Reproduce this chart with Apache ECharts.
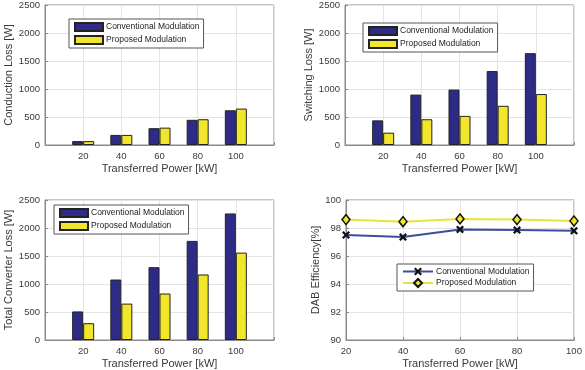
<!DOCTYPE html>
<html>
<head>
<meta charset="utf-8">
<script src="https://cdn.jsdelivr.net/npm/echarts@6/dist/echarts.min.js"></script>
<style>
  html, body { margin: 0; padding: 0; background: #fff; }
  #main { width: 585px; height: 370px; }
</style>
</head>
<body>
<div id="main"></div>
<script>
// data
var powers = [20, 40, 60, 80, 100];
var condConv = [70, 180, 300, 450, 620];
var condProp = [70, 180, 310, 460, 650];
var swConv = [440, 900, 990, 1320, 1640];
var swProp = [220, 460, 520, 700, 910];
var totConv = [510, 1080, 1300, 1770, 2260];
var totProp = [300, 650, 830, 1170, 1560];
var effConv = [97.5, 97.35, 97.9, 97.85, 97.8];
var effProp = [98.6, 98.45, 98.65, 98.6, 98.5];

var legendText = { conv: 'Conventional Modulation', prop: 'Proposed Modulation' };

var FONT = 'Liberation Sans, Arial, sans-serif';
var TXT = '#3a3a3a';
var FRAME = '#8a8a8a';
var GRIDLINE = '#e4e4e4';
var NAVY = '#2e2b87';
var YELLOW = '#f2e62a';

function pairs(xs, ys) {
	return xs.map(function (x, i) { return [x, ys[i]]; });
}

var myChart = echarts.init(document.getElementById('main'));

var grids = [
	{ left: 45, top: 5, width: 229, height: 140 },
	{ left: 345, top: 5, width: 229, height: 140 },
	{ left: 45, top: 200, width: 229, height: 140 },
	{ left: 346, top: 200, width: 228, height: 140 }
].map(function (g) {
	g.show = true;
	g.borderColor = FRAME;
	g.borderWidth = 1;
	g.backgroundColor = '#fff';
	return g;
});

function xAxisFor(idx, isLine) {
	return {
		type: 'value',
		gridIndex: idx,
		min: isLine ? 20 : 0,
		max: isLine ? 100 : 120,
		interval: 20,
		name: 'Transferred Power [kW]',
		nameLocation: 'middle',
		nameGap: 18,
		nameTextStyle: { color: TXT, fontSize: 11, fontFamily: FONT },
		axisLine: { show: true, onZero: false, lineStyle: { color: FRAME } },
		axisTick: { show: true, inside: true, length: 3, lineStyle: { color: FRAME } },
		axisLabel: {
			color: TXT, fontSize: 9.5, fontFamily: FONT, margin: 6,
			formatter: function (v) { return (!isLine && (v === 0 || v === 120)) ? '' : String(v); }
		},
		splitLine: { show: true, lineStyle: { color: GRIDLINE } }
	};
}

function yAxisFor(idx, name, min, max, interval, gap) {
	return {
		type: 'value',
		gridIndex: idx,
		min: min,
		max: max,
		interval: interval,
		name: name,
		nameLocation: 'middle',
		nameGap: gap,
		nameTextStyle: { color: TXT, fontSize: 11, fontFamily: FONT },
		axisLine: { show: true, lineStyle: { color: FRAME } },
		axisTick: { show: true, inside: true, length: 3, lineStyle: { color: FRAME } },
		axisLabel: {
			color: TXT, fontSize: 9.5, fontFamily: FONT, margin: 5,
			formatter: function (v) { return String(v); }
		},
		splitLine: { show: true, lineStyle: { color: GRIDLINE } }
	};
}

function legendFor(idx, left, top, isLine) {
	return {
		left: left,
		top: top,
		orient: 'vertical',
		data: ['conv-' + idx, 'prop-' + idx],
		icon: isLine ? undefined : 'rect',
		itemWidth: isLine ? 30 : 28,
		itemHeight: isLine ? 10 : 8,
		itemGap: isLine ? 2 : 3,
		padding: [3, 4, 3, 5],
		borderColor: '#555',
		borderWidth: 1,
		backgroundColor: '#fff',
		selectedMode: false,
		textStyle: { color: '#222', fontSize: 8.5, fontFamily: FONT, padding: [0, 0, 0, -2] },
		formatter: function (n) { return legendText[n.split('-')[0]]; }
	};
}

function barSeries(idx, key, color, ys) {
	return {
		name: key + '-' + idx,
		type: 'bar',
		xAxisIndex: idx,
		yAxisIndex: idx,
		barWidth: 11,
		barGap: '0%',
		itemStyle: { color: color, borderColor: '#222', borderWidth: 1 },
		data: pairs(powers, ys)
	};
}

var xSymbol = 'path://M2,0 L5,3 L8,0 L10,2 L7,5 L10,8 L8,10 L5,7 L2,10 L0,8 L3,5 L0,2 Z';

var option = {
	animation: false,
	grid: grids,
	xAxis: [xAxisFor(0, false), xAxisFor(1, false), xAxisFor(2, false), xAxisFor(3, true)],
	yAxis: [
		yAxisFor(0, 'Conduction Loss [W]', 0, 2500, 500, 28),
		yAxisFor(1, 'Switching Loss [W]', 0, 2500, 500, 28),
		yAxisFor(2, 'Total Converter Loss [W]', 0, 2500, 500, 28),
		yAxisFor(3, 'DAB Efficiency[%]', 90, 100, 2, 23)
	],
	legend: [
		legendFor(0, 69, 19, false),
		legendFor(1, 363, 23, false),
		legendFor(2, 54, 205, false),
		legendFor(3, 397, 264, true)
	],
	series: [
		barSeries(0, 'conv', NAVY, condConv),
		barSeries(0, 'prop', YELLOW, condProp),
		barSeries(1, 'conv', NAVY, swConv),
		barSeries(1, 'prop', YELLOW, swProp),
		barSeries(2, 'conv', NAVY, totConv),
		barSeries(2, 'prop', YELLOW, totProp),
		{
			name: 'conv-3',
			type: 'line',
			xAxisIndex: 3,
			yAxisIndex: 3,
			symbol: xSymbol,
			symbolSize: 8,
			lineStyle: { color: '#3b4d9e', width: 2 },
			itemStyle: { color: '#111' },
			data: pairs(powers, effConv)
		},
		{
			name: 'prop-3',
			type: 'line',
			xAxisIndex: 3,
			yAxisIndex: 3,
			symbol: 'diamond',
			symbolSize: [8, 10],
			lineStyle: { color: '#ebe33a', width: 2 },
			itemStyle: { color: YELLOW, borderColor: '#111', borderWidth: 1.5 },
			data: pairs(powers, effProp)
		}
	]
};
myChart.setOption(option);
</script>
</body>
</html>
